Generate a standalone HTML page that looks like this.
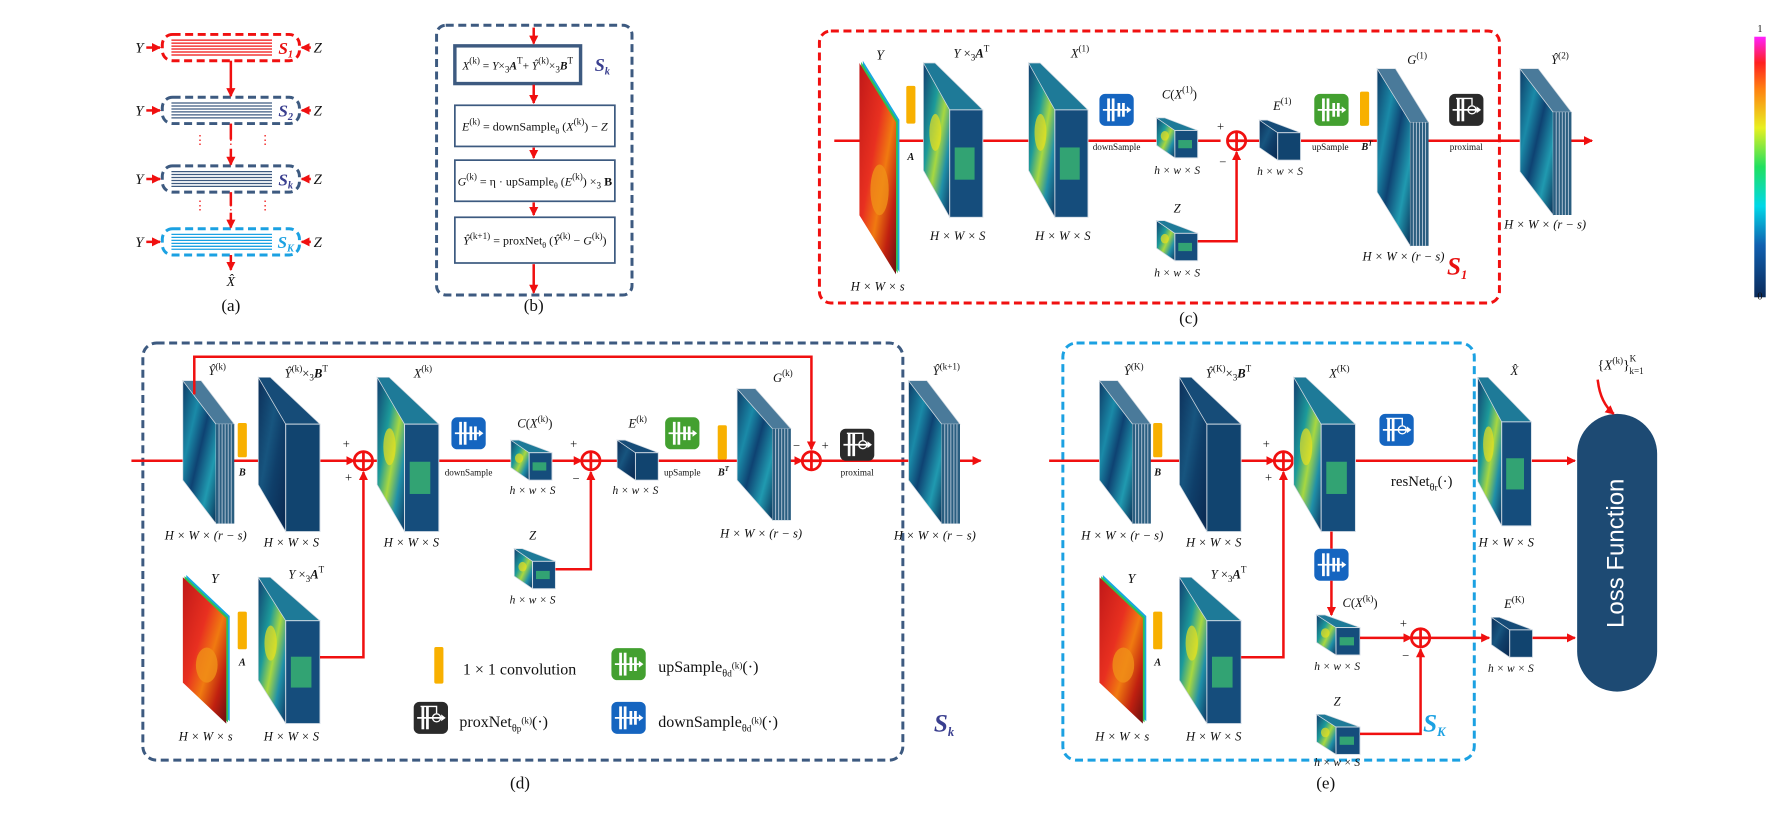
<!DOCTYPE html>
<html><head><meta charset="utf-8">
<style>
html,body{margin:0;padding:0;background:#fff;}
svg{display:block;}
text{font-family:"Liberation Serif","DejaVu Serif",serif;}
</style></head>
<body>
<svg id="fig" width="1792" height="814" viewBox="0 0 1568 712" xmlns="http://www.w3.org/2000/svg">
<defs>
<linearGradient id="cbar" x1="0" y1="1" x2="0" y2="0">
<stop offset="0" stop-color="#0a2a5a"/><stop offset="0.2" stop-color="#1060b0"/><stop offset="0.35" stop-color="#00d8e8"/><stop offset="0.5" stop-color="#20e060"/><stop offset="0.65" stop-color="#e8f020"/><stop offset="0.8" stop-color="#ff8010"/><stop offset="0.9" stop-color="#ff2020"/><stop offset="1" stop-color="#ff20ff"/>
</linearGradient>
<linearGradient id="sideHot" x1="0" y1="0" x2="1" y2="1">
<stop offset="0" stop-color="#123e70"/><stop offset="0.35" stop-color="#1c9a9a"/><stop offset="0.55" stop-color="#a8d840"/><stop offset="0.75" stop-color="#2090a8"/><stop offset="1" stop-color="#0e3360"/>
</linearGradient>
<linearGradient id="sideCool" x1="0" y1="0" x2="1" y2="1">
<stop offset="0" stop-color="#0c2e58"/><stop offset="0.4" stop-color="#17557f"/><stop offset="0.6" stop-color="#0f3f6a"/><stop offset="1" stop-color="#0a2850"/>
</linearGradient>
<linearGradient id="sideCyan" x1="0" y1="0" x2="1" y2="1">
<stop offset="0" stop-color="#0e3a66"/><stop offset="0.3" stop-color="#1a8aa8"/><stop offset="0.5" stop-color="#0e4272"/><stop offset="0.75" stop-color="#209ab0"/><stop offset="1" stop-color="#0b3158"/>
</linearGradient>
<linearGradient id="redImg" x1="0" y1="0" x2="1" y2="1">
<stop offset="0" stop-color="#c01818"/><stop offset="0.4" stop-color="#e83020"/><stop offset="0.6" stop-color="#f07a10"/><stop offset="0.8" stop-color="#c02010"/><stop offset="1" stop-color="#6a1010"/>
</linearGradient>
<marker id="ah" markerWidth="8" markerHeight="8" refX="7" refY="4" orient="auto" markerUnits="userSpaceOnUse"><path d="M0,0 L8,4 L0,8 z" fill="#f01010"/></marker>
</defs>
<g id="root"></g>
</svg>
<script>
const NS='http://www.w3.org/2000/svg';
const root=document.getElementById('root');
const RED='#f01010';
function mk(tag,attrs,parent){const e=document.createElementNS(NS,tag);for(const k in attrs)e.setAttribute(k,attrs[k]);(parent||root).appendChild(e);return e;}
function txt(x,y,s,size,name,opts){
  opts=opts||{};
  const e=mk('text',{x:x,y:y,'font-size':size,'text-anchor':opts.anchor||'middle',fill:opts.fill||'#111'});
  if(opts.italic)e.setAttribute('font-style','italic');
  if(opts.bold)e.setAttribute('font-weight','bold');
  if(opts.family)e.setAttribute('style','font-family:'+opts.family);
  e.innerHTML=s;
  
  
  return e;
}
function line(pts,name,arrow){
  const e=mk('polyline',{points:pts.map(p=>p.join(',')).join(' '),fill:'none',stroke:RED,'stroke-width':2.2});
  if(arrow)e.setAttribute('marker-end','url(#ah)');
  
  
  return e;
}
function dbox(x,y,w,h,color,name,rx){
  const e=mk('rect',{x:x,y:y,width:w,height:h,rx:rx||10,fill:'none',stroke:color,'stroke-width':2.6,'stroke-dasharray':'7,4'});
  
  
  return e;
}
function plus(cx,cy,name){
  const g=mk('g',{});
  
  
  mk('circle',{cx:cx,cy:cy,r:8,fill:'#fff',stroke:RED,'stroke-width':2.4},g);
  mk('line',{x1:cx-8,y1:cy,x2:cx+8,y2:cy,stroke:RED,'stroke-width':2.4},g);
  mk('line',{x1:cx,y1:cy-8,x2:cx,y2:cy+8,stroke:RED,'stroke-width':2.4},g);
}
function cube(x,y,W,H,kind,name){
  const g=mk('g',{});
  
  
  const F=Math.round(W*0.55), S=Math.round(H*0.3);
  const side={hot:'url(#sideHot)',cool:'url(#sideCool)',cyan:'url(#sideCyan)'}[kind];
  mk('polygon',{points:`${x},${y} ${x+W-F},${y+S} ${x+W-F},${y+H} ${x},${y+H-S}`,fill:side,stroke:'#cfd8e0','stroke-width':0.6},g);
  mk('polygon',{points:`${x},${y} ${x+F*0.35},${y} ${x+W},${y+S} ${x+W-F},${y+S}`,fill:kind==='hot'?'#1e7a98':'#164c78',stroke:'#cfd8e0','stroke-width':0.6},g);
  mk('rect',{x:x+W-F,y:y+S,width:F,height:H-S,fill:kind==='hot'?'#154d7c':'#11446f',stroke:'#d8e0e8','stroke-width':0.8},g);
  if(kind==='hot'){
    mk('rect',{x:x+W-F+F*0.15,y:y+S+(H-S)*0.35,width:F*0.6,height:(H-S)*0.3,fill:'#3cc070',opacity:0.75},g);
    mk('ellipse',{cx:x+W*0.2,cy:y+H*0.45,rx:W*0.1,ry:H*0.12,fill:'#e8e020',opacity:0.7},g);
  }
  return g;
}
function sheet(x,y,W,H,name){
  const g=mk('g',{});
  
  
  const S=H*0.28;
  mk('polygon',{points:`${x+3},${y-2} ${x+W+3},${y+S-2} ${x+W+3},${y+H-2} ${x+3},${y+H-S-2}`,fill:'#18a8e0'},g);
  mk('polygon',{points:`${x+1.5},${y-1} ${x+W+1.5},${y+S-1} ${x+W+1.5},${y+H-1} ${x+1.5},${y+H-S-1}`,fill:'#30c050'},g);
  mk('polygon',{points:`${x},${y} ${x+W},${y+S} ${x+W},${y+H} ${x},${y+H-S}`,fill:'url(#redImg)'},g);
  mk('ellipse',{cx:x+W*0.55,cy:y+H*0.6,rx:W*0.25,ry:H*0.12,fill:'#f09018',opacity:0.8},g);
}
function stack(x,y,W,H,name){
  const g=mk('g',{});
  
  
  const F=Math.round(W*0.35), S=Math.round(H*0.3);
  mk('polygon',{points:`${x},${y} ${x+W-F},${y+S} ${x+W-F},${y+H} ${x},${y+H-S}`,fill:'url(#sideCyan)',stroke:'#cfd8e0','stroke-width':0.6},g);
  mk('polygon',{points:`${x},${y} ${x+F},${y} ${x+W},${y+S} ${x+W-F},${y+S}`,fill:'#4a7a9a',stroke:'#cfd8e0','stroke-width':0.6},g);
  mk('rect',{x:x+W-F,y:y+S,width:F,height:H-S,fill:'#2a5e80'},g);
  for(let i=1;i<6;i++)mk('line',{x1:x+W-F+i*F/6,y1:y+S,x2:x+W-F+i*F/6,y2:y+H,stroke:'#b8c8d8','stroke-width':0.8},g);
}
function bar(x,y,h,name){
  const e=mk('rect',{x:x,y:y,width:8,height:h,rx:1.5,fill:'#f8b000'});
  
  
}
function icon(x,y,color,name,res){
  const g=mk('g',{});
  
  
  mk('rect',{x:x,y:y,width:30,height:28,rx:5,fill:color},g);
  mk('line',{x1:x+3,y1:y+14,x2:x+25,y2:y+14,stroke:'#fff','stroke-width':1.5},g);
  mk('polygon',{points:`${x+24},${y+11} ${x+28},${y+14} ${x+24},${y+17}`,fill:'#fff'},g);
  const xs=res?[x+8,x+12]:[x+8,x+12,x+17,x+21];
  const hs=res?[20,20]:[20,20,12,12];
  xs.forEach((xx,i)=>mk('rect',{x:xx-1.2,y:y+14-hs[i]/2,width:2.4,height:hs[i],fill:'#fff'},g));
  if(res){mk('circle',{cx:x+20,cy:y+14,r:3.5,fill:'none',stroke:'#fff','stroke-width':1.2},g);
    mk('polyline',{points:`${x+6},${y+4} ${x+20},${y+4} ${x+20},${y+10}`,fill:'none',stroke:'#fff','stroke-width':1.2},g);}
}

/* ---------- panel (a) ---------- */
const aBoxes=[[30,'#f01010','S<tspan font-size="9" dy="3">1</tspan>','#e81010'],[85,'#3d5a80','S<tspan font-size="9" dy="3">2</tspan>','#3a3f8f'],[145,'#3d5a80','S<tspan font-size="9" dy="3">k</tspan>','#3a3f8f'],[200,'#1ba1e2','S<tspan font-size="9" dy="3">K</tspan>','#1ba1e2']];
aBoxes.forEach((b,i)=>{
  const y=b[0];
  dbox(142,y,120,23,b[1],'panel-a-stage-'+(i+1),9);
  for(let j=0;j<6;j++){const l=mk('line',{x1:150,y1:y+5+j*2.6,x2:238,y2:y+5+j*2.6,stroke:b[1],'stroke-width':1.1});
    
    }
  txt(250,y+17,b[2],15,'panel-a-stage-label-'+(i+1),{italic:true,bold:true,fill:b[3]});
  txt(122,y+16,'Y',13,'panel-a-y-input',{italic:true});
  txt(278,y+16,'Z',13,'panel-a-z-input',{italic:true});
  line([[128,y+11.5],[140,y+11.5]],'panel-a-y-arrow',true);
  line([[272,y+11.5],[264,y+11.5]],'panel-a-z-arrow',true);
});
line([[202,53],[202,84]],'panel-a-arrow-1',true);
line([[202,108],[202,122]],'panel-a-arrow-2',false);
line([[202,130],[202,144]],'panel-a-arrow-3',true);
line([[202,168],[202,180]],'panel-a-arrow-4',false);
line([[202,186],[202,199]],'panel-a-arrow-5',true);
line([[202,223],[202,236]],'panel-a-arrow-6',true);
[[202,126],[175,126],[232,126],[202,183],[175,183],[232,183]].forEach(p=>txt(p[0],p[1],'⋮',11,'panel-a-dots',{fill:RED}));
txt(202,250,'X̂',12,'panel-a-output',{italic:true});
txt(202,272,'(a)',15,'panel-a-caption');

/* ---------- panel (b) ---------- */
dbox(382,22,171,236,'#3d5a80','panel-b-box',8);
const bb=[[40,33,3,'<tspan font-style="italic">X</tspan><tspan font-size="8" dy="-5">(k)</tspan><tspan dy="5"> = </tspan><tspan font-style="italic">Y</tspan>×<tspan font-size="8" dy="3">3</tspan><tspan dy="-3" font-weight="bold" font-style="italic">A</tspan><tspan font-size="8" dy="-5">T</tspan><tspan dy="5">+ </tspan><tspan font-style="italic">Ŷ</tspan><tspan font-size="8" dy="-5">(k)</tspan><tspan dy="5">×</tspan><tspan font-size="8" dy="3">3</tspan><tspan dy="-3" font-weight="bold" font-style="italic">B</tspan><tspan font-size="8" dy="-5">T</tspan>'],
 [92,36,1.5,'<tspan font-style="italic">E</tspan><tspan font-size="8" dy="-5">(k)</tspan><tspan dy="5"> = downSample</tspan><tspan font-size="7" dy="3">θ</tspan><tspan dy="-3"> (</tspan><tspan font-style="italic">X</tspan><tspan font-size="8" dy="-5">(k)</tspan><tspan dy="5">) − </tspan><tspan font-style="italic">Z</tspan>'],
 [140,36,1.5,'<tspan font-style="italic">G</tspan><tspan font-size="8" dy="-5">(k)</tspan><tspan dy="5"> = η · upSample</tspan><tspan font-size="7" dy="3">θ</tspan><tspan dy="-3"> (</tspan><tspan font-style="italic">E</tspan><tspan font-size="8" dy="-5">(k)</tspan><tspan dy="5">) ×</tspan><tspan font-size="8" dy="3">3</tspan><tspan dy="-3" font-weight="bold"> B</tspan>'],
 [190,40,1.5,'<tspan font-style="italic">Ŷ</tspan><tspan font-size="8" dy="-5">(k+1)</tspan><tspan dy="5"> = proxNet</tspan><tspan font-size="7" dy="3">θ</tspan><tspan dy="-3"> (</tspan><tspan font-style="italic">Ŷ</tspan><tspan font-size="8" dy="-5">(k)</tspan><tspan dy="5"> − </tspan><tspan font-style="italic">G</tspan><tspan font-size="8" dy="-5">(k)</tspan><tspan dy="5">)</tspan>']];
bb.forEach((b,i)=>{
  const r=mk('rect',{x:398,y:b[0],width:i===0?110:140,height:b[1],fill:'#fff',stroke:'#3d5a80','stroke-width':b[2]});
  
  
  txt(i===0?453:468,b[0]+b[1]/2+4,b[3],i===0?10:10.5,'panel-b-equation-'+(i+1));
});
txt(527,62,'S<tspan font-size="9" dy="3">k</tspan>',16,'panel-b-stage-label',{italic:true,bold:true,fill:'#3a3f8f'});
line([[467,24],[467,38]],'panel-b-arrow-0',true);
line([[467,74],[467,90]],'panel-b-arrow-1',true);
line([[467,129],[467,138]],'panel-b-arrow-2',true);
line([[467,177],[467,188]],'panel-b-arrow-3',true);
line([[467,231],[467,256]],'panel-b-arrow-4',true);
txt(467,272,'(b)',15,'panel-b-caption');

/* ---------- panel (c) ---------- */
dbox(717,27,595,238,'#f01010','panel-c-box',10);
txt(1040,283,'(c)',15,'panel-c-caption');
txt(1275,240,'S<tspan font-size="11" dy="4">1</tspan>',22,'panel-c-stage-label',{italic:true,bold:true,fill:'#e81010'});
line([[730,123],[1068,123]],'panel-c-main-flow',false);
line([[1090,123],[1393,123]],'panel-c-main-flow-2',true);
sheet(752,55,32,185,'panel-c-input-y');
txt(770,52,'Y',12,'panel-c-y-label',{italic:true});
txt(768,254,'H × W × s',11,'panel-c-y-dims',{italic:true});
bar(793,75,33,'panel-c-conv-a');
txt(797,140,'A',9,'panel-c-a-label',{italic:true,bold:true});
cube(808,55,52,135,'hot','panel-c-y-times-a');
txt(850,50,'<tspan font-style="italic">Y</tspan> ×<tspan font-size="8" dy="3">3</tspan><tspan dy="-3" font-weight="bold" font-style="italic">A</tspan><tspan font-size="8" dy="-5">T</tspan>',11,'panel-c-yat-label');
txt(838,210,'H × W × S',11,'panel-c-yat-dims',{italic:true});
cube(900,55,52,135,'hot','panel-c-x1');
txt(945,50,'<tspan font-style="italic">X</tspan><tspan font-size="8" dy="-5">(1)</tspan>',11,'panel-c-x1-label');
txt(930,210,'H × W × S',11,'panel-c-x1-dims',{italic:true});
icon(962,82,'#1565c0','panel-c-downsample-icon');
txt(977,131,'downSample',8,'panel-c-downsample-label');
cube(1012,103,36,35,'hot','panel-c-cx1');
txt(1032,86,'<tspan font-style="italic">C</tspan>(<tspan font-style="italic">X</tspan><tspan font-size="8" dy="-5">(1)</tspan><tspan dy="5">)</tspan>',11,'panel-c-cx1-label');
txt(1030,152,'h × w × S',10,'panel-c-cx1-dims',{italic:true});
plus(1082,123,'panel-c-sum');
txt(1068,114,'+',11,'panel-c-plus-sign');
txt(1070,145,'−',11,'panel-c-minus-sign');
cube(1012,193,36,35,'hot','panel-c-z');
txt(1030,186,'Z',11,'panel-c-z-label',{italic:true});
txt(1030,242,'h × w × S',10,'panel-c-z-dims',{italic:true});
line([[1048,211],[1082,211],[1082,133]],'panel-c-z-flow',true);
cube(1102,105,36,35,'cool','panel-c-e1');
txt(1122,96,'<tspan font-style="italic">E</tspan><tspan font-size="8" dy="-5">(1)</tspan>',11,'panel-c-e1-label');
txt(1120,153,'h × w × S',10,'panel-c-e1-dims',{italic:true});
icon(1150,82,'#43a030','panel-c-upsample-icon');
txt(1164,131,'upSample',8,'panel-c-upsample-label');
bar(1190,80,30,'panel-c-conv-bt');
txt(1196,131,'B<tspan font-size="6" dy="-4">T</tspan>',9,'panel-c-bt-label',{italic:true,bold:true});
stack(1205,60,45,155,'panel-c-g1');
txt(1240,56,'<tspan font-style="italic">G</tspan><tspan font-size="8" dy="-5">(1)</tspan>',11,'panel-c-g1-label');
txt(1228,228,'H × W × (r − s)',11,'panel-c-g1-dims',{italic:true});
icon(1268,82,'#2a2a2a','panel-c-proximal-icon',true);
txt(1283,131,'proximal',8,'panel-c-proximal-label');
stack(1330,60,45,128,'panel-c-y2');
txt(1365,56,'<tspan font-style="italic">Ŷ</tspan><tspan font-size="8" dy="-5">(2)</tspan>',11,'panel-c-y2-label');
txt(1352,200,'H × W × (r − s)',11,'panel-c-y2-dims',{italic:true});
const cb=mk('rect',{x:1535,y:32,width:10,height:228,fill:'url(#cbar)'});


txt(1540,28,'1',9,'colorbar-max');
txt(1540,262,'0',9,'colorbar-min');

/* ---------- panel (d) ---------- */
dbox(125,300,665,365,'#3d5a80','panel-d-box',12);
txt(455,690,'(d)',15,'panel-d-caption');
txt(826,640,'S<tspan font-size="11" dy="4">k</tspan>',22,'panel-d-stage-label',{italic:true,bold:true,fill:'#3a3f8f'});
line([[115,403],[310,403]],'panel-d-main-flow-1',true);
line([[326,403],[509,403]],'panel-d-main-flow-2',true);
line([[525,403],[702,403]],'panel-d-main-flow-3',true);
line([[718,403],[858,403]],'panel-d-main-flow-4',true);
stack(160,333,45,125,'panel-d-yk');
txt(190,328,'<tspan font-style="italic">Ŷ</tspan><tspan font-size="8" dy="-5">(k)</tspan>',11,'panel-d-yk-label');
txt(180,472,'H × W × (r − s)',11,'panel-d-yk-dims',{italic:true});
line([[170,345],[170,312],[710,312],[710,393]],'panel-d-skip-connection',true);
bar(208,370,30,'panel-d-conv-b');
txt(212,416,'B',9,'panel-d-b-label',{italic:true,bold:true});
cube(226,330,54,135,'cool','panel-d-yk-times-bt');
txt(268,330,'<tspan font-style="italic">Ŷ</tspan><tspan font-size="8" dy="-5">(k)</tspan><tspan dy="5">×</tspan><tspan font-size="8" dy="3">3</tspan><tspan dy="-3" font-weight="bold" font-style="italic">B</tspan><tspan font-size="8" dy="-5">T</tspan>',11,'panel-d-ybt-label');
txt(255,478,'H × W × S',11,'panel-d-ybt-dims',{italic:true});
plus(318,403,'panel-d-sum-1');
txt(303,392,'+',11,'panel-d-plus-1');
txt(305,421,'+',11,'panel-d-plus-2');
cube(330,330,54,135,'hot','panel-d-xk');
txt(370,330,'<tspan font-style="italic">X</tspan><tspan font-size="8" dy="-5">(k)</tspan>',11,'panel-d-xk-label');
txt(360,478,'H × W × S',11,'panel-d-xk-dims',{italic:true});
icon(395,365,'#1565c0','panel-d-downsample-icon');
txt(410,416,'downSample',8,'panel-d-downsample-label');
cube(447,385,36,35,'hot','panel-d-cxk');
txt(468,374,'<tspan font-style="italic">C</tspan>(<tspan font-style="italic">X</tspan><tspan font-size="8" dy="-5">(k)</tspan><tspan dy="5">)</tspan>',11,'panel-d-cxk-label');
txt(466,432,'h × w × S',10,'panel-d-cxk-dims',{italic:true});
plus(517,403,'panel-d-sum-2');
txt(502,392,'+',11,'panel-d-plus-3');
txt(504,422,'−',11,'panel-d-minus-1');
cube(450,480,36,35,'hot','panel-d-z');
txt(466,472,'Z',11,'panel-d-z-label',{italic:true});
txt(466,528,'h × w × S',10,'panel-d-z-dims',{italic:true});
line([[486,498],[517,498],[517,413]],'panel-d-z-flow',true);
cube(540,385,36,35,'cool','panel-d-ek');
txt(558,374,'<tspan font-style="italic">E</tspan><tspan font-size="8" dy="-5">(k)</tspan>',11,'panel-d-ek-label');
txt(556,432,'h × w × S',10,'panel-d-ek-dims',{italic:true});
icon(582,365,'#43a030','panel-d-upsample-icon');
txt(597,416,'upSample',8,'panel-d-upsample-label');
bar(628,372,30,'panel-d-conv-bt');
txt(633,416,'B<tspan font-size="6" dy="-4">T</tspan>',9,'panel-d-bt-label',{italic:true,bold:true});
stack(645,340,47,115,'panel-d-gk');
txt(685,334,'<tspan font-style="italic">G</tspan><tspan font-size="8" dy="-5">(k)</tspan>',11,'panel-d-gk-label');
txt(666,470,'H × W × (r − s)',11,'panel-d-gk-dims',{italic:true});
plus(710,403,'panel-d-sum-3');
txt(697,393,'−',11,'panel-d-minus-2');
txt(722,393,'+',11,'panel-d-plus-4');
icon(735,375,'#2a2a2a','panel-d-proximal-icon',true);
txt(750,416,'proximal',8,'panel-d-proximal-label');
stack(795,333,45,125,'panel-d-yk1');
txt(828,328,'<tspan font-style="italic">Ŷ</tspan><tspan font-size="8" dy="-5">(k+1)</tspan>',11,'panel-d-yk1-label');
txt(818,472,'H × W × (r − s)',11,'panel-d-yk1-dims',{italic:true});
sheet(160,505,38,128,'panel-d-input-y');
txt(188,510,'Y',12,'panel-d-y-label',{italic:true});
txt(180,648,'H × W × s',11,'panel-d-y-dims',{italic:true});
bar(208,535,33,'panel-d-conv-a');
txt(212,582,'A',9,'panel-d-a-label',{italic:true,bold:true});
cube(226,505,54,128,'hot','panel-d-y-times-a');
txt(268,506,'<tspan font-style="italic">Y</tspan> ×<tspan font-size="8" dy="3">3</tspan><tspan dy="-3" font-weight="bold" font-style="italic">A</tspan><tspan font-size="8" dy="-5">T</tspan>',11,'panel-d-yat-label');
txt(255,648,'H × W × S',11,'panel-d-yat-dims',{italic:true});
line([[280,575],[318,575],[318,413]],'panel-d-yat-flow',true);
bar(380,566,32,'legend-conv-swatch');
txt(405,590,'1 × 1 convolution',14,'legend-conv-label',{anchor:'start'});
icon(535,567,'#43a030','legend-upsample-icon');
txt(576,588,'upSample<tspan font-size="9" dy="4">θ</tspan><tspan font-size="8" dy="0">d</tspan><tspan font-size="8" dy="-7">(k)</tspan><tspan dy="3">(·)</tspan>',14,'legend-upsample-label',{anchor:'start'});
icon(362,614,'#2a2a2a','legend-proxnet-icon',true);
txt(402,636,'proxNet<tspan font-size="9" dy="4">θ</tspan><tspan font-size="8">p</tspan><tspan font-size="8" dy="-7">(k)</tspan><tspan dy="3">(·)</tspan>',14,'legend-proxnet-label',{anchor:'start'});
icon(535,614,'#1565c0','legend-downsample-icon');
txt(576,636,'downSample<tspan font-size="9" dy="4">θ</tspan><tspan font-size="8">d</tspan><tspan font-size="8" dy="-7">(k)</tspan><tspan dy="3">(·)</tspan>',14,'legend-downsample-label',{anchor:'start'});

/* ---------- panel (e) ---------- */
dbox(930,300,360,365,'#1ba1e2','panel-e-box',12);
txt(1160,690,'(e)',15,'panel-e-caption');
txt(1255,640,'S<tspan font-size="11" dy="4">K</tspan>',22,'panel-e-stage-label',{italic:true,bold:true,fill:'#1ba1e2'});
line([[918,403],[1115,403]],'panel-e-main-flow-1',true);
line([[1131,403],[1378,403]],'panel-e-main-flow-2',true);
stack(962,333,45,125,'panel-e-yK');
txt(992,328,'<tspan font-style="italic">Ŷ</tspan><tspan font-size="8" dy="-5">(K)</tspan>',11,'panel-e-yK-label');
txt(982,472,'H × W × (r − s)',11,'panel-e-yK-dims',{italic:true});
bar(1009,370,30,'panel-e-conv-b');
txt(1013,416,'B',9,'panel-e-b-label',{italic:true,bold:true});
cube(1032,330,54,135,'cool','panel-e-yK-times-bt');
txt(1075,330,'<tspan font-style="italic">Ŷ</tspan><tspan font-size="8" dy="-5">(K)</tspan><tspan dy="5">×</tspan><tspan font-size="8" dy="3">3</tspan><tspan dy="-3" font-weight="bold" font-style="italic">B</tspan><tspan font-size="8" dy="-5">T</tspan>',11,'panel-e-ybt-label');
txt(1062,478,'H × W × S',11,'panel-e-ybt-dims',{italic:true});
plus(1123,403,'panel-e-sum-1');
txt(1108,392,'+',11,'panel-e-plus-1');
txt(1110,421,'+',11,'panel-e-plus-2');
cube(1132,330,54,135,'hot','panel-e-xK');
txt(1172,330,'<tspan font-style="italic">X</tspan><tspan font-size="8" dy="-5">(K)</tspan>',11,'panel-e-xK-label');
icon(1207,362,'#1565c0','panel-e-resnet-icon',true);
txt(1244,425,'resNet<tspan font-size="9" dy="4">θ</tspan><tspan font-size="8">r</tspan><tspan dy="-4">(·)</tspan>',13,'panel-e-resnet-label');
cube(1293,330,47,130,'hot','panel-e-xhat');
txt(1325,328,'X̂',11,'panel-e-xhat-label',{italic:true});
txt(1318,478,'H × W × S',11,'panel-e-xhat-dims',{italic:true});
line([[1165,465],[1165,480]],'panel-e-down-flow-1',false);
icon(1150,480,'#1565c0','panel-e-downsample-icon');
line([[1165,508],[1165,538]],'panel-e-down-flow-2',true);
cube(1152,538,38,35,'hot','panel-e-cxk');
txt(1190,531,'<tspan font-style="italic">C</tspan>(<tspan font-style="italic">X</tspan><tspan font-size="8" dy="-5">(k)</tspan><tspan dy="5">)</tspan>',11,'panel-e-cxk-label');
txt(1170,586,'h × w × S',10,'panel-e-cxk-dims',{italic:true});
line([[1190,558],[1235,558]],'panel-e-cx-flow',true);
plus(1243,558,'panel-e-sum-2');
txt(1228,549,'+',11,'panel-e-plus-3');
txt(1230,577,'−',11,'panel-e-minus-1');
line([[1251,558],[1303,558]],'panel-e-e-flow',true);
cube(1152,625,38,35,'hot','panel-e-z');
txt(1170,617,'Z',11,'panel-e-z-label',{italic:true});
txt(1170,670,'h × w × S',10,'panel-e-z-dims',{italic:true});
line([[1190,642],[1243,642],[1243,568]],'panel-e-z-flow',true);
cube(1305,540,36,35,'cool','panel-e-eK');
txt(1325,532,'<tspan font-style="italic">E</tspan><tspan font-size="8" dy="-5">(K)</tspan>',11,'panel-e-eK-label');
txt(1322,588,'h × w × S',10,'panel-e-eK-dims',{italic:true});
line([[1341,558],[1378,558]],'panel-e-e-to-loss',true);
sheet(962,505,38,128,'panel-e-input-y');
txt(990,510,'Y',12,'panel-e-y-label',{italic:true});
txt(982,648,'H × W × s',11,'panel-e-y-dims',{italic:true});
bar(1009,535,33,'panel-e-conv-a');
txt(1013,582,'A',9,'panel-e-a-label',{italic:true,bold:true});
cube(1032,505,54,128,'hot','panel-e-y-times-a');
txt(1075,506,'<tspan font-style="italic">Y</tspan> ×<tspan font-size="8" dy="3">3</tspan><tspan dy="-3" font-weight="bold" font-style="italic">A</tspan><tspan font-size="8" dy="-5">T</tspan>',11,'panel-e-yat-label');
txt(1062,648,'H × W × S',11,'panel-e-yat-dims',{italic:true});
line([[1086,575],[1123,575],[1123,413]],'panel-e-yat-flow',true);
const lf=mk('rect',{x:1380,y:362,width:70,height:243,rx:35,fill:'#1d4a73'});


const lt=txt(1415,484,'Loss Function',21,'loss-function-label',{fill:'#fff',family:'"Liberation Sans",sans-serif'});
lt.setAttribute('transform','rotate(-90 1415 484)');
lt.setAttribute('dominant-baseline','middle');
txt(1418,323,'{<tspan font-style="italic">X</tspan><tspan font-size="8" dy="-5">(k)</tspan><tspan dy="5">}</tspan><tspan font-size="8" dy="-7">K</tspan><tspan font-size="8" dx="-6" dy="11">k=1</tspan>',12,'loss-input-label');
const cp=mk('path',{d:'M1398,332 Q1400,352 1412,362',fill:'none',stroke:RED,'stroke-width':2.2,'marker-end':'url(#ah)'});


</script>
</body></html>
